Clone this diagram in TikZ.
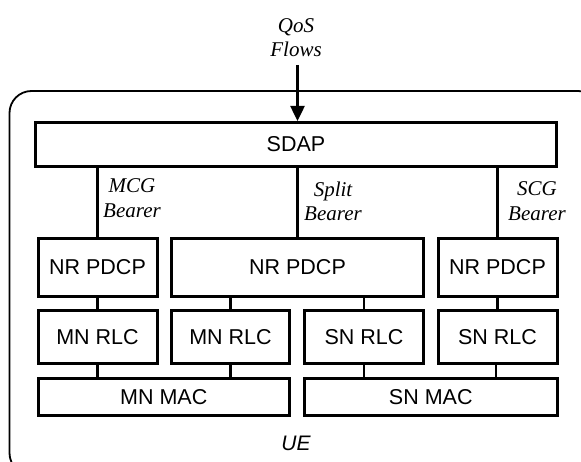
\documentclass[tikz,border=0pt]{standalone}
\usepackage{fontspec}
\setmainfont{Liberation Serif}
\setsansfont{Liberation Sans}
\usetikzlibrary{arrows.meta}
\begin{document}
\begin{tikzpicture}[x=1pt,y=-1pt,
 blk/.style={draw, line width=3pt, font=\sffamily\fontsize{21.5}{25}\selectfont, inner sep=0pt},
 conn/.style={line width=2.5pt},
 lbl/.style={font=\itshape\fontsize{21}{24.5}\selectfont, align=center, inner sep=0pt}]
\useasboundingbox (0,0) rectangle (581,462);
\begin{scope}
\clip (0,0) rectangle (581,462);
\draw[line width=1.8pt, rounded corners=22pt] (9.5,91) rectangle (600,475);
\end{scope}
% blocks
\node[blk, minimum width=521pt, minimum height=44pt] (sdap) at (296,144.5) {SDAP};
\node[blk, minimum width=119pt, minimum height=58.4pt] (pdcp1) at (97.5,267.5) {NR PDCP};
\node[blk, minimum width=251.6pt, minimum height=58.4pt] (pdcp2) at (297.5,267.5) {NR PDCP};
\node[blk, minimum width=119pt, minimum height=58.4pt] (pdcp3) at (497.5,267.5) {NR PDCP};
\node[blk, minimum width=119pt, minimum height=52.3pt] (rlc1) at (97.5,337) {MN RLC};
\node[blk, minimum width=118pt, minimum height=52.3pt] (rlc2) at (230.5,337) {MN RLC};
\node[blk, minimum width=119pt, minimum height=52.3pt] (rlc3) at (364,337) {SN RLC};
\node[blk, minimum width=119pt, minimum height=52.3pt] (rlc4) at (497.5,337) {SN RLC};
\node[blk, minimum width=251.5pt, minimum height=36.7pt] (mac1) at (163.75,397.3) {MN MAC};
\node[blk, minimum width=252.5pt, minimum height=36.7pt] (mac2) at (430.75,397.3) {SN MAC};
% labels
\node[lbl] (qos) at (296,37.5) {QoS\\Flows};
\coordinate (qin) at (297.5,65);
\node[lbl] (mcg) at (132,198) {MCG\\Bearer};
\node[lbl] (split) at (333,201.5) {Split\\Bearer};
\node[lbl] (scg) at (537,201) {SCG\\Bearer};
\node[font=\sffamily\itshape\fontsize{21}{24}\selectfont, anchor=base, inner sep=0pt] (ue) at (296,450) {UE};
% connectors
\draw[conn, -{Triangle[length=15pt,width=14pt]}] (qin) -- (qin |- sdap.north);
\draw[conn] (sdap.south -| pdcp1) -- (pdcp1.north);
\draw[conn] (sdap.south -| pdcp2) -- (pdcp2.north);
\draw[conn] (sdap.south -| pdcp3) -- (pdcp3.north);
\draw[conn] (pdcp1.south) -- (rlc1.north);
\draw[conn] (pdcp2.south -| rlc2) -- (rlc2.north);
\draw[conn] (pdcp2.south -| rlc3) -- (rlc3.north);
\draw[conn] (pdcp3.south) -- (rlc4.north);
\draw[conn] (rlc1.south) -- (rlc1.south |- mac1.north);
\draw[conn] (rlc2.south) -- (rlc2.south |- mac1.north);
\draw[conn] (rlc3.south) -- (rlc3.south |- mac2.north);
\draw[conn] (rlc4.south) ++(-1.5,0) coordinate (r4) -- (r4 |- mac2.north);
\end{tikzpicture}
\end{document}
